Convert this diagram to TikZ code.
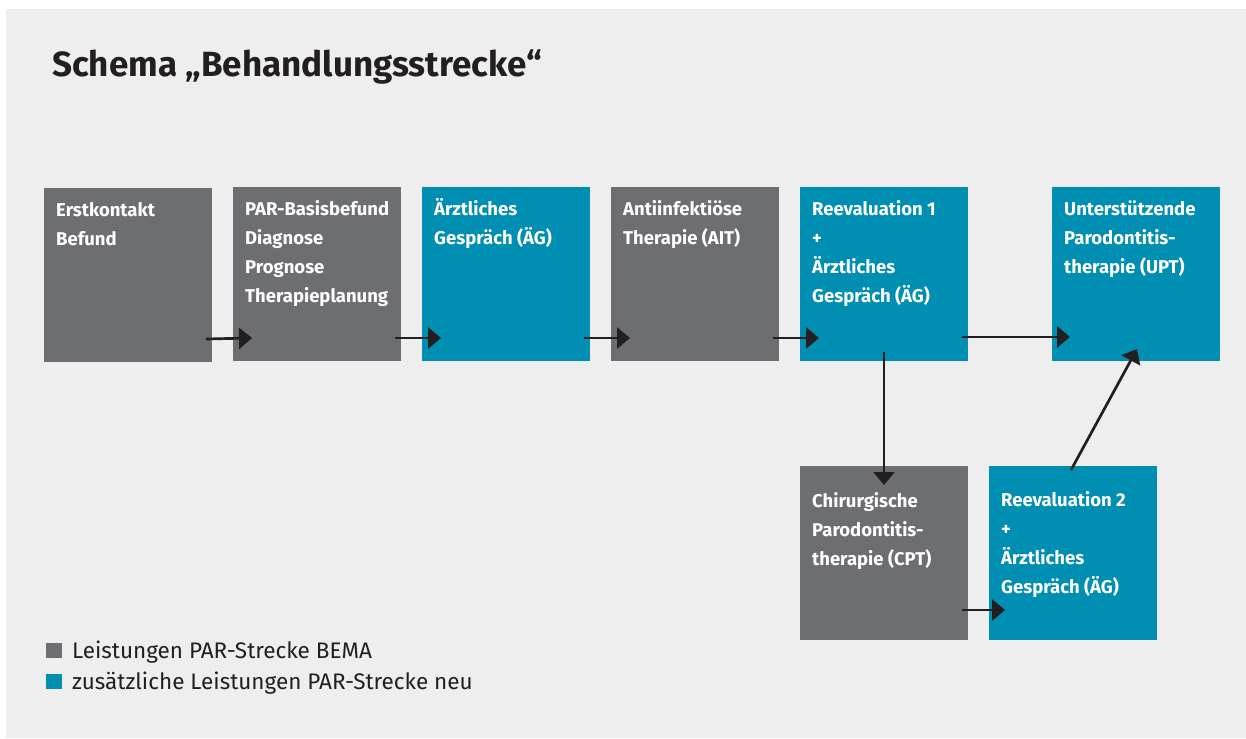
\documentclass[tikz,border=0pt]{standalone}
\usepackage{fontspec}
\setmainfont{Fira Sans}
\usetikzlibrary{arrows.meta,calc}
\definecolor{bgc}{HTML}{EEEEEE}
\definecolor{boxgrey}{HTML}{6D6E72}
\definecolor{boxteal}{HTML}{008EB2}
\definecolor{ink}{HTML}{231F20}
\newcommand{\stacklines}[1]{\vtop{\halign{##\hfil\cr#1\crcr}}}
\begin{document}
\begin{tikzpicture}[x=1pt,y=-1pt,
  box/.style={draw=none,inner sep=0pt,outer sep=0pt,minimum width=168pt,minimum height=174pt,anchor=north west},
  gbox/.style={box,fill=boxgrey},
  tbox/.style={box,fill=boxteal},
  boxtext/.style={anchor=base west,text=white,inner sep=0pt,font=\bfseries\fontsize{18.5}{29}\selectfont},
  flow/.style={-{Triangle[length=13pt,width=21pt]},line width=2.7pt,draw=ink},
  legsq/.style={draw=none,inner sep=0pt,minimum width=16pt,minimum height=15pt,anchor=north west},
  legtext/.style={anchor=base west,inner sep=0pt,text=ink,font=\fontsize{22.5}{26}\selectfont}
]
\useasboundingbox (0,0) rectangle (1246,738);
\fill[bgc] (6,9) rectangle (1246,738);

\node[anchor=base west,inner sep=0pt,text=ink,font=\bfseries\fontsize{35}{42}\selectfont] (title) at (52,77) {Schema „Behandlungsstrecke“};

\node[gbox] (b1) at (44,188) {};
\node[gbox] (b2) at (233,187) {};
\node[tbox] (b3) at (422,187) {};
\node[gbox] (b4) at (611,187) {};
\node[tbox] (b5) at (800,187) {};
\node[tbox] (b6) at (1052,187) {};
\node[gbox] (b7) at (800,466) {};
\node[tbox] (b8) at (989,466) {};

\node[boxtext] (t1) at ($(b1.north west)+(12,28)$) {\stacklines{Erstkontakt\cr Befund}};
\node[boxtext] (t2) at ($(b2.north west)+(12,28)$) {\stacklines{PAR-Basisbefund\cr Diagnose\cr Prognose\cr Therapieplanung}};
\node[boxtext] (t3) at ($(b3.north west)+(12,28)$) {\stacklines{Ärztliches\cr Gespräch (ÄG)}};
\node[boxtext] (t4) at ($(b4.north west)+(12,28)$) {\stacklines{Antiinfektiöse\cr Therapie (AIT)}};
\node[boxtext] (t5) at ($(b5.north west)+(12,28)$) {\stacklines{Reevaluation 1\cr +\cr Ärztliches\cr Gespräch (ÄG)}};
\node[boxtext] (t6) at ($(b6.north west)+(12,28)$) {\stacklines{Unterstützende\cr Parodontitis-\cr therapie (UPT)}};
\node[boxtext] (t7) at ($(b7.north west)+(12,41)$) {\stacklines{Chirurgische\cr Parodontitis-\cr therapie (CPT)}};
\node[boxtext] (t8) at ($(b8.north west)+(12,40)$) {\stacklines{Reevaluation 2\cr +\cr Ärztliches\cr Gespräch (ÄG)}};

\draw[flow] ($(b1.south east)+(-6,-23)$) -- ($(b2.south west)+(19,-23)$);
\draw[flow] ($(b2.south east)+(-6,-23)$) -- ($(b3.south west)+(19,-23)$);
\draw[flow] ($(b3.south east)+(-6,-23)$) -- ($(b4.south west)+(19,-23)$);
\draw[flow] ($(b4.south east)+(-6,-23)$) -- ($(b5.south west)+(19,-23)$);
\draw[flow] ($(b5.south east)+(-6,-24)$) -- ($(b6.south west)+(18,-24)$);
\draw[flow] ($(b5.south)+(0,-9)$) -- ($(b7.north)+(0,19)$);
\draw[flow] ($(b8.north west)+(82,4)$) -- ($(b6.south west)+(85,-12)$);
\draw[flow] ($(b7.south east)+(-6,-30)$) -- ($(b8.south west)+(16,-30)$);

\node[legsq,fill=boxgrey] (l1) at (46,643) {};
\node[legsq,fill=boxteal] (l2) at (46,674) {};
\node[legtext] (lt1) at (72,658) {Leistungen PAR-Strecke BEMA};
\node[legtext] (lt2) at (72,689) {zusätzliche Leistungen PAR-Strecke neu};
\end{tikzpicture}
\end{document}
